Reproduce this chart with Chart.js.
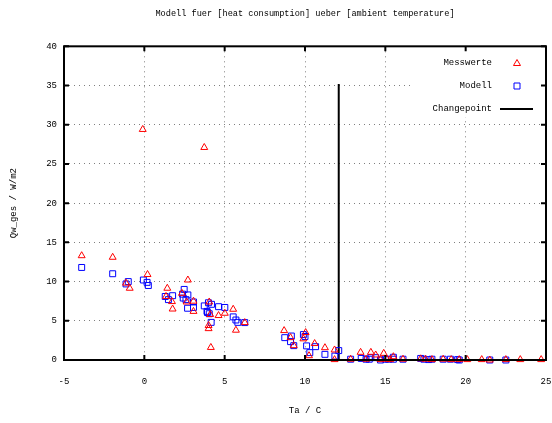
<!DOCTYPE html>
<html>
<head>
<meta charset="utf-8">
<script src="https://cdn.jsdelivr.net/npm/chart.js@4"></script>
<style>body{margin:0;background:#fff}</style>
</head>
<body>
<canvas id="chart" width="552" height="423"></canvas>
<script>
// Messwerte (red triangles)
const messTa = [-3.9, -1.97, -1.14, -0.91, -0.1, 0.2, 1.43, 1.35, 1.72, 1.76, 2.71, 2.34, 2.63, 3.06, 3.06,
  3.73, 4.04, 4.1, 4.0, 4.0, 4.14, 4.62, 5.01, 5.53, 5.7, 6.25, 8.7, 9.1, 9.3, 10.04, 9.9, 10.25, 10.6,
  11.24, 11.84, 11.84, 13.46, 14.1, 14.4, 14.9, 15.5, 12.84, 13.8, 14.7, 15.1, 15.3, 16.1, 17.2, 17.5,
  17.9, 18.6, 19.1, 19.6, 20.1, 21.0, 21.5, 22.5, 23.4, 24.7];
const messQw = [13.3, 13.1, 9.8, 9.15, 29.4, 10.9, 9.15, 8.1, 7.45, 6.5, 10.2, 8.5, 7.4, 7.5, 6.2,
  27.1, 7.4, 5.8, 4.4, 4.0, 1.6, 5.67, 5.96, 6.47, 3.8, 4.77, 3.75, 2.85, 1.83, 3.5, 2.7, 0.55, 2.1,
  1.57, 1.28, 0.05, 0.98, 0.98, 0.64, 0.85, 0.42, 0.1, 0.1, 0.05, 0.1, 0.05, 0.1, 0.15, 0.1,
  0.05, 0.1, 0.05, 0.05, 0.05, 0.05, 0.0, 0.05, 0.05, 0.05];

// Modell (blue squares)
const modTa = [-3.9, -1.97, -1.0, -1.14, -0.06, 0.17, 0.25, 1.3, 1.5, 1.76, 2.48, 2.38, 2.71, 2.42, 2.59,
  3.06, 2.69, 3.06, 3.73, 3.99, 4.18, 3.93, 4.04, 3.9, 4.16, 4.62, 5.01, 5.53, 5.7, 5.82, 6.25, 8.74,
  9.15, 9.1, 9.3, 9.9, 10.0, 10.1, 10.3, 10.66, 11.24, 11.86, 12.1, 12.84, 13.5, 13.8, 14.0, 14.1, 14.4,
  14.7, 15.0, 15.2, 15.5, 15.5, 16.1, 17.2, 17.4, 17.7, 17.9, 18.6, 19.05, 19.5, 19.6, 21.5, 22.5];
const modQw = [11.8, 11.0, 10.0, 9.7, 10.2, 9.9, 9.5, 8.1, 7.7, 8.2, 9.0, 8.4, 8.3, 7.9, 7.7,
  7.4, 6.6, 6.7, 6.9, 7.3, 7.1, 6.05, 5.9, 6.2, 4.8, 6.8, 6.7, 5.5, 5.1, 4.8, 4.77, 2.85,
  3.06, 2.34, 1.83, 3.24, 3.0, 1.8, 0.94, 1.7, 0.72, 0.5, 1.2, 0.1, 0.2, 0.1, 0.1, 0.3, 0.3,
  0.0, 0.1, 0.1, 0.1, 0.35, 0.1, 0.2, 0.1, 0.05, 0.1, 0.1, 0.1, 0.05, 0.0, 0.0, 0.0];

// Changepoint
const changeTa = [12.1, 12.1];
const changeQw = [0, 35.2];

const labels = ['Messwerte', 'Modell', 'Changepoint'];
const xMin = -5, xMax = 25, xStep = 5;
const yMin = 0, yMax = 40, yStep = 5;

const FONT = {family: "'Liberation Mono', 'DejaVu Sans Mono', monospace", size: 9, weight: 'normal'};

function zip(xs, ys) {
  return xs.map((x, i) => ({x: x, y: ys[i]}));
}

// legend + frame drawn like gnuplot (text right aligned, symbol to the right)
const gnuplotLook = {
  id: 'gnuplotLook',
  beforeDatasetsDraw(chart) {
    const ctx = chart.ctx, a = chart.chartArea;
    ctx.save();
    ctx.fillStyle = '#fff';
    ctx.fillRect(410, a.top + 1, a.right - 411, 70);
    ctx.font = FONT.size + 'px ' + FONT.family;
    ctx.textAlign = 'right';
    ctx.textBaseline = 'middle';
    chart.data.datasets.forEach((ds, i) => {
      const y = 63 + i * 23;
      ctx.fillStyle = '#000';
      ctx.fillText(ds.label, 492, y);
      ctx.strokeStyle = ds.borderColor;
      ctx.lineWidth = ds.type === 'line' ? 2 : 1;
      ctx.beginPath();
      if (ds.type === 'line') {
        ctx.moveTo(500, y); ctx.lineTo(533, y);
      } else if (ds.pointStyle === 'triangle') {
        ctx.moveTo(517, y - 3.5); ctx.lineTo(520.5, y + 2.5); ctx.lineTo(513.5, y + 2.5); ctx.closePath();
      } else {
        ctx.rect(514, y - 3, 6, 6);
      }
      ctx.stroke();
    });
    ctx.restore();
  },
  afterDatasetsDraw(chart) {
    const ctx = chart.ctx, a = chart.chartArea;
    const xs = chart.scales.x, ys = chart.scales.y;
    ctx.save();
    ctx.strokeStyle = '#000';
    ctx.lineWidth = 2;
    ctx.strokeRect(a.left, a.top, a.right - a.left, a.bottom - a.top);
    ctx.beginPath();
    xs.ticks.forEach(t => {
      const px = xs.getPixelForValue(t.value);
      ctx.moveTo(px, a.bottom); ctx.lineTo(px, a.bottom - 5);
      ctx.moveTo(px, a.top); ctx.lineTo(px, a.top + 5);
    });
    ys.ticks.forEach(t => {
      const py = ys.getPixelForValue(t.value);
      ctx.moveTo(a.left, py); ctx.lineTo(a.left + 5, py);
      ctx.moveTo(a.right, py); ctx.lineTo(a.right - 5, py);
    });
    ctx.stroke();
    ctx.restore();
  }
};

new Chart(document.getElementById('chart'), {
  type: 'scatter',
  data: {
    datasets: [{
      label: labels[0],
      data: zip(messTa, messQw),
      pointStyle: 'triangle',
      radius: 4,
      borderColor: '#ff0000',
      backgroundColor: 'rgba(0,0,0,0)',
      borderWidth: 1,
      clip: false
    }, {
      label: labels[1],
      data: zip(modTa, modQw),
      pointStyle: 'rect',
      radius: 4.2,
      borderColor: '#0000ff',
      backgroundColor: 'rgba(0,0,0,0)',
      borderWidth: 1,
      clip: false
    }, {
      label: labels[2],
      type: 'line',
      data: zip(changeTa, changeQw),
      borderColor: '#000',
      borderWidth: 2,
      pointRadius: 0,
      showLine: true,
      fill: false
    }]
  },
  options: {
    responsive: false,
    devicePixelRatio: 1,
    animation: false,
    layout: {padding: {left: 0, right: 6, top: 0, bottom: 0}},
    plugins: {
      legend: {display: false},
      tooltip: {enabled: false},
      title: {
        display: true,
        fullSize: false,
        text: 'Modell fuer [heat consumption] ueber [ambient temperature]',
        color: '#000',
        font: {family: FONT.family, size: 8.6, weight: 'normal'},
        padding: {top: 9, bottom: 27}
      }
    },
    scales: {
      x: {
        type: 'linear',
        min: xMin, max: xMax,
        afterFit: s => { s.height = 63; s.paddingLeft = 0; s.paddingRight = 0; },
        ticks: {stepSize: xStep, color: '#000', font: FONT, padding: 16, maxRotation: 0},
        grid: {color: 'rgba(0,0,0,0.5)', drawTicks: false, lineWidth: 1},
        border: {display: false, dash: [1, 4]},
        title: {display: true, text: 'Ta / C', color: '#000', font: FONT, padding: {top: 7, bottom: 7}}
      },
      y: {
        min: yMin, max: yMax,
        afterFit: s => { s.width = 64; s.paddingTop = 0; s.paddingBottom = 0; },
        ticks: {stepSize: yStep, color: '#000', font: FONT, padding: 7},
        grid: {color: 'rgba(0,0,0,0.5)', drawTicks: false, lineWidth: 1},
        border: {display: false, dash: [1, 4]},
        title: {display: true, text: 'Qw_ges / W/m2', color: '#000', font: FONT, padding: {top: 8, bottom: 8}}
      }
    }
  },
  plugins: [gnuplotLook]
});
</script>
</body>
</html>
